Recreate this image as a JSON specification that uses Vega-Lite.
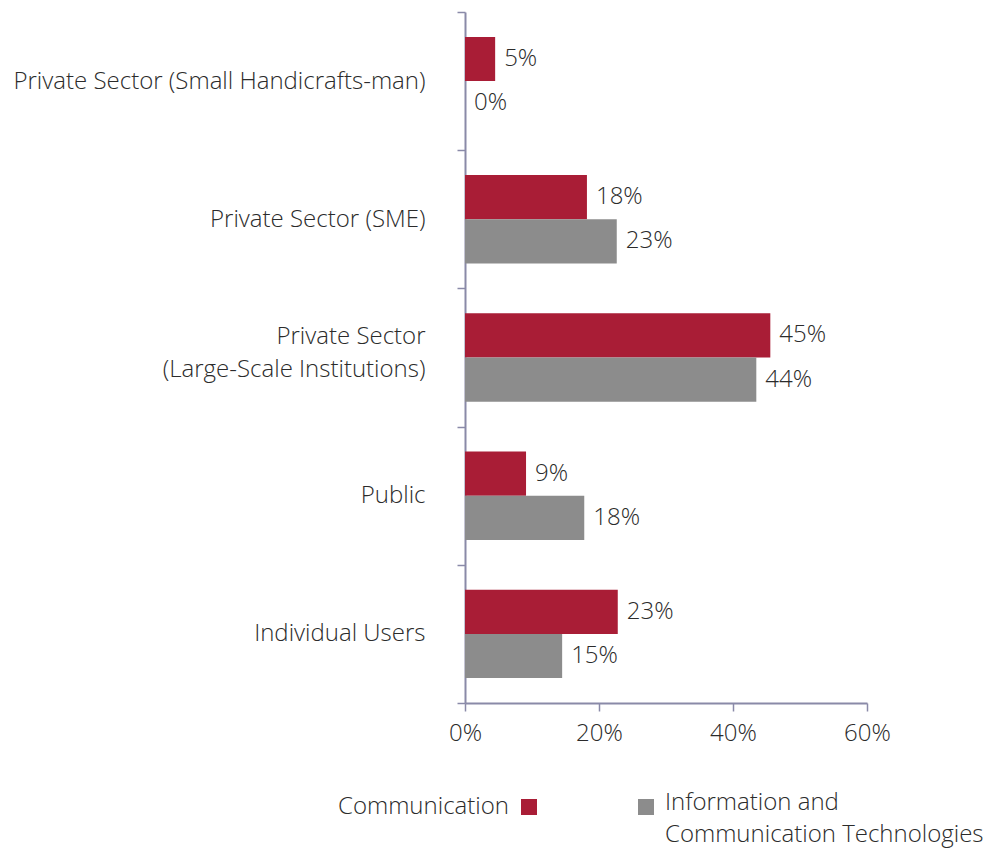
{
  "$schema": "https://vega.github.io/schema/vega-lite/v6.json",
  "autosize": "none",
  "width": 402,
  "height": 691,
  "padding": {"left": 465, "top": 12, "right": 120, "bottom": 149},
  "background": "white",
  "config": {
    "view": {"stroke": null},
    "font": "Open Sans",
    "text": {"font": "Open Sans", "fontWeight": 300},
    "axis": {"labelFont": "Open Sans", "labelFontWeight": 300, "labelColor": "#2b2b2b", "labelFontSize": 24, "domainColor": "#8A8AA8", "tickColor": "#8A8AA8", "domainWidth": 2, "tickWidth": 1.5, "grid": false, "title": null},
    "legend": {"labelFont": "Open Sans", "labelFontWeight": 300, "labelColor": "#2b2b2b", "labelFontSize": 24, "titleFont": "Open Sans", "titleFontWeight": 300, "titleColor": "#2b2b2b", "titleFontSize": 24}
  },
  "data": {
    "values": [
      {"category": "Private Sector (Small Handicrafts-man)", "series": "Communication", "value": 0.045, "label": "5%"},
      {"category": "Private Sector (Small Handicrafts-man)", "series": "Information and Communication Technologies", "value": 0.0, "label": "0%"},
      {"category": "Private Sector (SME)", "series": "Communication", "value": 0.182, "label": "18%"},
      {"category": "Private Sector (SME)", "series": "Information and Communication Technologies", "value": 0.2265, "label": "23%"},
      {"category": "Private Sector (Large-Scale Institutions)", "series": "Communication", "value": 0.4557, "label": "45%"},
      {"category": "Private Sector (Large-Scale Institutions)", "series": "Information and Communication Technologies", "value": 0.4348, "label": "44%"},
      {"category": "Public", "series": "Communication", "value": 0.0911, "label": "9%"},
      {"category": "Public", "series": "Information and Communication Technologies", "value": 0.178, "label": "18%"},
      {"category": "Individual Users", "series": "Communication", "value": 0.228, "label": "23%"},
      {"category": "Individual Users", "series": "Information and Communication Technologies", "value": 0.145, "label": "15%"}
    ]
  },
  "encoding": {
    "y": {
      "field": "category", "type": "nominal", "sort": null,
      "scale": {"paddingInner": 0, "paddingOuter": 0},
      "axis": {
        "tickBand": "extent", "tickSize": 8, "labelPadding": 32, "labelLimit": 600,
        "labelExpr": "datum.value == 'Private Sector (Large-Scale Institutions)' ? ['Private Sector', '(Large-Scale Institutions)'] : datum.label",
        "labelLineHeight": 33,
        "labelOffset": {"condition": {"test": "datum.value == 'Private Sector (Large-Scale Institutions)'", "value": -21}, "value": 0}
      }
    },
    "yOffset": {"field": "series", "type": "nominal", "scale": {"domain": ["Communication", "Information and Communication Technologies"], "paddingInner": 0, "paddingOuter": 0.563}},
    "x": {
      "field": "value", "type": "quantitative",
      "scale": {"domain": [0, 0.6], "nice": false},
      "axis": {"values": [0, 0.2, 0.4, 0.6], "format": ".0%", "tickSize": 8, "labelPadding": 10, "labelFlush": false}
    }
  },
  "layer": [
    {
      "transform": [{"filter": "datum.series == 'Communication'"}],
      "mark": {"type": "bar"},
      "encoding": {
        "color": {"field": "series", "type": "nominal", "scale": {"domain": ["Communication"], "range": ["#A91D36"]},
          "legend": {"orient": "none", "legendX": -127, "legendY": 783, "title": "Communication", "titleOrient": "left", "labelExpr": "''", "labelOffset": 0, "symbolType": "square", "symbolSize": 256, "titlePadding": 8, "padding": 0}}
      }
    },
    {
      "transform": [{"filter": "datum.series != 'Communication'"}],
      "mark": {"type": "bar"},
      "encoding": {
        "color": {"field": "series", "type": "nominal", "scale": {"domain": ["Information and Communication Technologies"], "range": ["#8C8C8C"]},
          "legend": {"orient": "none", "legendX": 169, "legendY": 783, "title": ["Information and", "Communication Technologies"], "titleOrient": "right", "titleBaseline": "top", "titleLineHeight": 32, "titlePadding": 7, "titleLimit": 500, "labelExpr": "''", "labelOffset": 0, "symbolType": "square", "symbolSize": 256, "padding": 0}}
      }
    },
    {
      "mark": {"type": "text", "align": "left", "baseline": "middle", "dx": 9, "fontSize": 24, "color": "#2b2b2b"},
      "encoding": {"text": {"field": "label"}}
    }
  ],
  "resolve": {"scale": {"color": "independent"}, "legend": {"color": "independent"}}
}
